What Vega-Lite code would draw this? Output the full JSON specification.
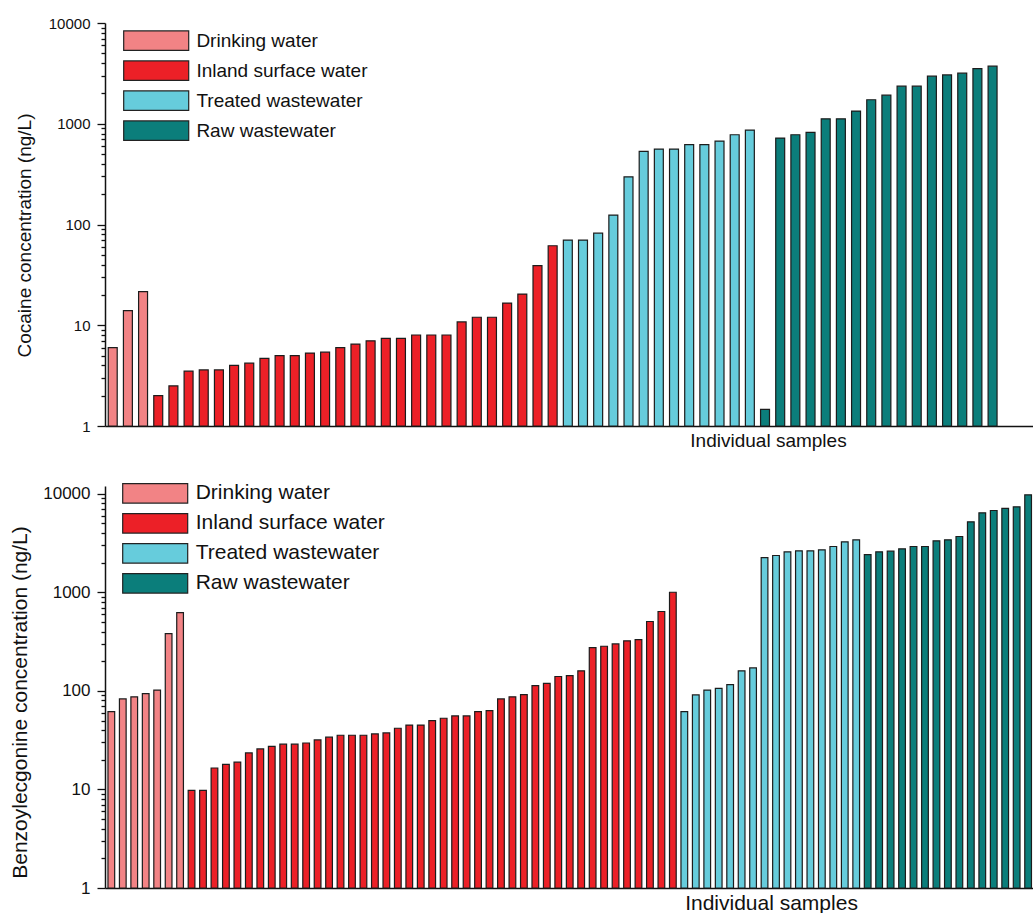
{
  "$schema": "https://vega.github.io/schema/vega-lite/v6.json",
  "padding": {"left": 8, "top": 16, "right": 0, "bottom": 0},
  "bounds": "flush",
  "spacing": 60,
  "datasets": {
    "cocaine": [
      {"sample": 1, "type": "Drinking water", "value": 6},
      {"sample": 2, "type": "Drinking water", "value": 14},
      {"sample": 3, "type": "Drinking water", "value": 21.6},
      {"sample": 4, "type": "Inland surface water", "value": 2.0},
      {"sample": 5, "type": "Inland surface water", "value": 2.5},
      {"sample": 6, "type": "Inland surface water", "value": 3.5},
      {"sample": 7, "type": "Inland surface water", "value": 3.6},
      {"sample": 8, "type": "Inland surface water", "value": 3.6},
      {"sample": 9, "type": "Inland surface water", "value": 4.0},
      {"sample": 10, "type": "Inland surface water", "value": 4.2},
      {"sample": 11, "type": "Inland surface water", "value": 4.7},
      {"sample": 12, "type": "Inland surface water", "value": 5.0},
      {"sample": 13, "type": "Inland surface water", "value": 5.0},
      {"sample": 14, "type": "Inland surface water", "value": 5.3},
      {"sample": 15, "type": "Inland surface water", "value": 5.4},
      {"sample": 16, "type": "Inland surface water", "value": 6.0},
      {"sample": 17, "type": "Inland surface water", "value": 6.5},
      {"sample": 18, "type": "Inland surface water", "value": 7.0},
      {"sample": 19, "type": "Inland surface water", "value": 7.4},
      {"sample": 20, "type": "Inland surface water", "value": 7.4},
      {"sample": 21, "type": "Inland surface water", "value": 8.0},
      {"sample": 22, "type": "Inland surface water", "value": 8.0},
      {"sample": 23, "type": "Inland surface water", "value": 8.0},
      {"sample": 24, "type": "Inland surface water", "value": 10.8},
      {"sample": 25, "type": "Inland surface water", "value": 12},
      {"sample": 26, "type": "Inland surface water", "value": 12},
      {"sample": 27, "type": "Inland surface water", "value": 16.6},
      {"sample": 28, "type": "Inland surface water", "value": 20.4},
      {"sample": 29, "type": "Inland surface water", "value": 39},
      {"sample": 30, "type": "Inland surface water", "value": 61.5},
      {"sample": 31, "type": "Treated wastewater", "value": 70},
      {"sample": 32, "type": "Treated wastewater", "value": 70},
      {"sample": 33, "type": "Treated wastewater", "value": 82},
      {"sample": 34, "type": "Treated wastewater", "value": 124},
      {"sample": 35, "type": "Treated wastewater", "value": 297},
      {"sample": 36, "type": "Treated wastewater", "value": 532},
      {"sample": 37, "type": "Treated wastewater", "value": 561},
      {"sample": 38, "type": "Treated wastewater", "value": 561},
      {"sample": 39, "type": "Treated wastewater", "value": 620},
      {"sample": 40, "type": "Treated wastewater", "value": 620},
      {"sample": 41, "type": "Treated wastewater", "value": 673},
      {"sample": 42, "type": "Treated wastewater", "value": 778},
      {"sample": 43, "type": "Treated wastewater", "value": 865},
      {"sample": 44, "type": "Raw wastewater", "value": 1.46},
      {"sample": 45, "type": "Raw wastewater", "value": 721},
      {"sample": 46, "type": "Raw wastewater", "value": 778},
      {"sample": 47, "type": "Raw wastewater", "value": 820},
      {"sample": 48, "type": "Raw wastewater", "value": 1120},
      {"sample": 49, "type": "Raw wastewater", "value": 1120},
      {"sample": 50, "type": "Raw wastewater", "value": 1336},
      {"sample": 51, "type": "Raw wastewater", "value": 1730},
      {"sample": 52, "type": "Raw wastewater", "value": 1923},
      {"sample": 53, "type": "Raw wastewater", "value": 2360},
      {"sample": 54, "type": "Raw wastewater", "value": 2360},
      {"sample": 55, "type": "Raw wastewater", "value": 2967},
      {"sample": 56, "type": "Raw wastewater", "value": 3055},
      {"sample": 57, "type": "Raw wastewater", "value": 3178},
      {"sample": 58, "type": "Raw wastewater", "value": 3531},
      {"sample": 59, "type": "Raw wastewater", "value": 3727}
    ],
    "benzoylecgonine": [
      {"sample": 1, "type": "Drinking water", "value": 61.6},
      {"sample": 2, "type": "Drinking water", "value": 83},
      {"sample": 3, "type": "Drinking water", "value": 87},
      {"sample": 4, "type": "Drinking water", "value": 94},
      {"sample": 5, "type": "Drinking water", "value": 102},
      {"sample": 6, "type": "Drinking water", "value": 382},
      {"sample": 7, "type": "Drinking water", "value": 624},
      {"sample": 8, "type": "Inland surface water", "value": 9.8},
      {"sample": 9, "type": "Inland surface water", "value": 9.8},
      {"sample": 10, "type": "Inland surface water", "value": 16.5},
      {"sample": 11, "type": "Inland surface water", "value": 18},
      {"sample": 12, "type": "Inland surface water", "value": 18.9},
      {"sample": 13, "type": "Inland surface water", "value": 23.5},
      {"sample": 14, "type": "Inland surface water", "value": 25.8},
      {"sample": 15, "type": "Inland surface water", "value": 27.4},
      {"sample": 16, "type": "Inland surface water", "value": 28.8},
      {"sample": 17, "type": "Inland surface water", "value": 28.8},
      {"sample": 18, "type": "Inland surface water", "value": 29.6},
      {"sample": 19, "type": "Inland surface water", "value": 31.8},
      {"sample": 20, "type": "Inland surface water", "value": 33.9},
      {"sample": 21, "type": "Inland surface water", "value": 35.5},
      {"sample": 22, "type": "Inland surface water", "value": 35.5},
      {"sample": 23, "type": "Inland surface water", "value": 35.5},
      {"sample": 24, "type": "Inland surface water", "value": 36.6},
      {"sample": 25, "type": "Inland surface water", "value": 37.5},
      {"sample": 26, "type": "Inland surface water", "value": 41.8},
      {"sample": 27, "type": "Inland surface water", "value": 45},
      {"sample": 28, "type": "Inland surface water", "value": 45},
      {"sample": 29, "type": "Inland surface water", "value": 50},
      {"sample": 30, "type": "Inland surface water", "value": 52.8},
      {"sample": 31, "type": "Inland surface water", "value": 55.7},
      {"sample": 32, "type": "Inland surface water", "value": 55.7},
      {"sample": 33, "type": "Inland surface water", "value": 61.6},
      {"sample": 34, "type": "Inland surface water", "value": 63},
      {"sample": 35, "type": "Inland surface water", "value": 83},
      {"sample": 36, "type": "Inland surface water", "value": 87},
      {"sample": 37, "type": "Inland surface water", "value": 91.8},
      {"sample": 38, "type": "Inland surface water", "value": 113},
      {"sample": 39, "type": "Inland surface water", "value": 119},
      {"sample": 40, "type": "Inland surface water", "value": 140},
      {"sample": 41, "type": "Inland surface water", "value": 143},
      {"sample": 42, "type": "Inland surface water", "value": 160},
      {"sample": 43, "type": "Inland surface water", "value": 275},
      {"sample": 44, "type": "Inland surface water", "value": 284},
      {"sample": 45, "type": "Inland surface water", "value": 300},
      {"sample": 46, "type": "Inland surface water", "value": 322},
      {"sample": 47, "type": "Inland surface water", "value": 332},
      {"sample": 48, "type": "Inland surface water", "value": 506},
      {"sample": 49, "type": "Inland surface water", "value": 639},
      {"sample": 50, "type": "Inland surface water", "value": 1002},
      {"sample": 51, "type": "Treated wastewater", "value": 61.6},
      {"sample": 52, "type": "Treated wastewater", "value": 91},
      {"sample": 53, "type": "Treated wastewater", "value": 102},
      {"sample": 54, "type": "Treated wastewater", "value": 106},
      {"sample": 55, "type": "Treated wastewater", "value": 116},
      {"sample": 56, "type": "Treated wastewater", "value": 160},
      {"sample": 57, "type": "Treated wastewater", "value": 171},
      {"sample": 58, "type": "Treated wastewater", "value": 2255},
      {"sample": 59, "type": "Treated wastewater", "value": 2365},
      {"sample": 60, "type": "Treated wastewater", "value": 2578},
      {"sample": 61, "type": "Treated wastewater", "value": 2640},
      {"sample": 62, "type": "Treated wastewater", "value": 2640},
      {"sample": 63, "type": "Treated wastewater", "value": 2700},
      {"sample": 64, "type": "Treated wastewater", "value": 2918},
      {"sample": 65, "type": "Treated wastewater", "value": 3256},
      {"sample": 66, "type": "Treated wastewater", "value": 3413},
      {"sample": 67, "type": "Raw wastewater", "value": 2420},
      {"sample": 68, "type": "Raw wastewater", "value": 2578},
      {"sample": 69, "type": "Raw wastewater", "value": 2620},
      {"sample": 70, "type": "Raw wastewater", "value": 2766},
      {"sample": 71, "type": "Raw wastewater", "value": 2918},
      {"sample": 72, "type": "Raw wastewater", "value": 2918},
      {"sample": 73, "type": "Raw wastewater", "value": 3334},
      {"sample": 74, "type": "Raw wastewater", "value": 3413},
      {"sample": 75, "type": "Raw wastewater", "value": 3687},
      {"sample": 76, "type": "Raw wastewater", "value": 5196},
      {"sample": 77, "type": "Raw wastewater", "value": 6413},
      {"sample": 78, "type": "Raw wastewater", "value": 6773},
      {"sample": 79, "type": "Raw wastewater", "value": 7098},
      {"sample": 80, "type": "Raw wastewater", "value": 7379},
      {"sample": 81, "type": "Raw wastewater", "value": 9772}
    ]
  },
  "vconcat": [
    {
      "data": {"name": "cocaine"},
      "width": 929,
      "height": 403,
      "mark": {"type": "bar", "stroke": "#1c1c1c", "strokeWidth": 1.2},
      "encoding": {
        "x": {
          "field": "sample",
          "type": "ordinal",
          "scale": {
            "domain": [1, 2, 3, 4, 5, 6, 7, 8, 9, 10, 11, 12, 13, 14, 15, 16, 17, 18, 19, 20, 21, 22, 23, 24, 25, 26, 27, 28, 29, 30, 31, 32, 33, 34, 35, 36, 37, 38, 39, 40, 41, 42, 43, 44, 45, 46, 47, 48, 49, 50, 51, 52, 53, 54, 55, 56, 57, 58, 59, 60, 61],
            "paddingInner": 0.41,
            "paddingOuter": 0.325,
            "align": 0.33
          },
          "axis": {
            "labels": false,
            "ticks": false,
            "title": "Individual samples",
            "titleFontSize": 19,
            "titleX": 663,
            "titleY": 20,
            "titleAlign": "center",
            "titleBaseline": "alphabetic"
          }
        },
        "y": {
          "field": "value",
          "type": "quantitative",
          "stack": null,
          "scale": {"type": "log", "domain": [1, 10000]},
          "axis": {
            "values": [1, 2, 3, 4, 5, 6, 7, 8, 9, 10, 20, 30, 40, 50, 60, 70, 80, 90, 100, 200, 300, 400, 500, 600, 700, 800, 900, 1000, 2000, 3000, 4000, 5000, 6000, 7000, 8000, 9000, 10000],
            "labelExpr": "indexof([1, 10, 100, 1000, 10000], datum.value) >= 0 ? format(datum.value, 'd') : ''",
            "tickSize": {"condition": {"test": "indexof([1, 10, 100, 1000, 10000], datum.value) >= 0", "value": 8}, "value": 4},
            "labelFontSize": 15,
            "labelPadding": 7,
            "title": "Cocaine concentration (ng/L)",
            "titleFontSize": 19,
            "titleX": -81,
            "titleY": 212,
            "titleAngle": -90,
            "titleAlign": "center",
            "titleBaseline": "middle"
          }
        },
        "y2": {"datum": 1},
        "color": {
          "field": "type",
          "type": "nominal",
          "scale": {
            "domain": ["Drinking water", "Inland surface water", "Treated wastewater", "Raw wastewater"],
            "range": ["#f28385", "#ec2027", "#66ccdc", "#0b7e7b"]
          },
          "legend": {
            "legendX": 34.2,
            "legendY": 0.7,
            "labelFontSize": 19,
            "symbolType": "M-1.994,-0.598H1.994V0.598H-1.994Z",
            "symbolSize": 1063,
            "labelOffset": 23.2
          }
        }
      }
    },
    {
      "data": {"name": "benzoylecgonine"},
      "width": 929,
      "height": 402,
      "mark": {"type": "bar", "stroke": "#1c1c1c", "strokeWidth": 1.2},
      "encoding": {
        "x": {
          "field": "sample",
          "type": "ordinal",
          "scale": {"paddingInner": 0.415, "paddingOuter": 0.24, "align": 0.54},
          "axis": {
            "labels": false,
            "ticks": false,
            "title": "Individual samples",
            "titleFontSize": 21,
            "titleX": 666,
            "titleY": 21,
            "titleAlign": "center",
            "titleBaseline": "alphabetic"
          }
        },
        "y": {
          "field": "value",
          "type": "quantitative",
          "stack": null,
          "scale": {"type": "log", "domain": [1, 12000]},
          "axis": {
            "values": [1, 2, 3, 4, 5, 6, 7, 8, 9, 10, 20, 30, 40, 50, 60, 70, 80, 90, 100, 200, 300, 400, 500, 600, 700, 800, 900, 1000, 2000, 3000, 4000, 5000, 6000, 7000, 8000, 9000, 10000],
            "labelExpr": "indexof([1, 10, 100, 1000, 10000], datum.value) >= 0 ? format(datum.value, 'd') : ''",
            "tickSize": {"condition": {"test": "indexof([1, 10, 100, 1000, 10000], datum.value) >= 0", "value": 8}, "value": 4},
            "labelFontSize": 17,
            "labelPadding": 7,
            "title": "Benzoylecgonine concentration (ng/L)",
            "titleFontSize": 21,
            "titleX": -85,
            "titleY": 216,
            "titleAngle": -90,
            "titleAlign": "center",
            "titleBaseline": "middle"
          }
        },
        "y2": {"datum": 1},
        "color": {
          "field": "type",
          "type": "nominal",
          "scale": {
            "domain": ["Drinking water", "Inland surface water", "Treated wastewater", "Raw wastewater"],
            "range": ["#f28385", "#ec2027", "#66ccdc", "#0b7e7b"]
          },
          "legend": {
            "legendX": 33.2,
            "legendY": -9.7,
            "labelFontSize": 21,
            "symbolType": "M-2.031,-0.609H2.031V0.609H-2.031Z",
            "symbolSize": 1024,
            "labelOffset": 23.5
          }
        }
      }
    }
  ],
  "resolve": {"legend": {"color": "independent"}},
  "config": {
    "font": "Liberation Sans",
    "view": {"stroke": null},
    "axis": {
      "grid": false,
      "domainColor": "#111111",
      "domainWidth": 1.5,
      "tickColor": "#111111",
      "tickWidth": 1.3,
      "labelColor": "#111111",
      "titleColor": "#111111",
      "titleFontWeight": "normal",
      "labelOverlap": false,
      "labelFlush": false
    },
    "legend": {
      "orient": "none",
      "direction": "vertical",
      "title": null,
      "symbolStrokeColor": "#222222",
      "symbolStrokeWidth": 1.2,
      "symbolOpacity": 1,
      "labelColor": "#111111",
      "labelLimit": 0,
      "rowPadding": 0
    }
  }
}
